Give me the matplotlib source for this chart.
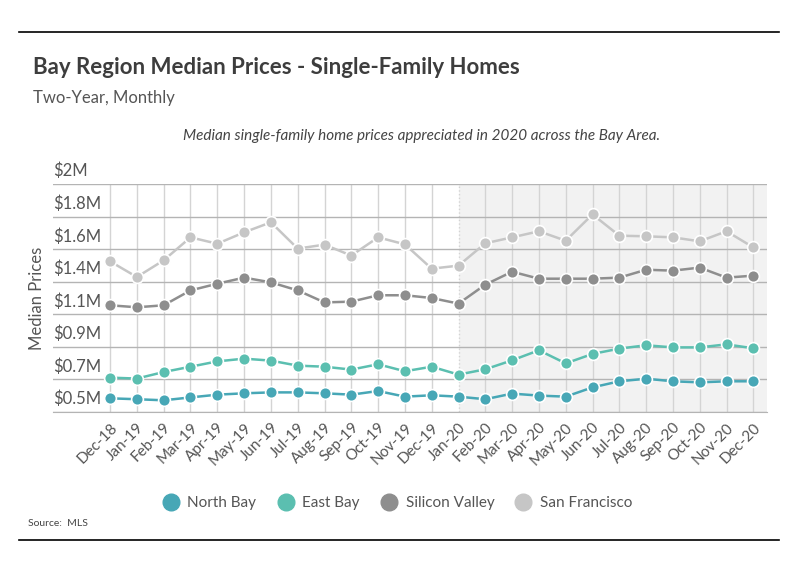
import matplotlib
matplotlib.use("Agg")
import matplotlib.pyplot as plt
import matplotlib.transforms as mtransforms
from matplotlib.lines import Line2D

plt.rcParams['font.family'] = ['Lato', 'DejaVu Sans']

months = ["Dec-18", "Jan-19", "Feb-19", "Mar-19", "Apr-19", "May-19", "Jun-19",
          "Jul-19", "Aug-19", "Sep-19", "Oct-19", "Nov-19", "Dec-19", "Jan-20",
          "Feb-20", "Mar-20", "Apr-20", "May-20", "Jun-20", "Jul-20", "Aug-20",
          "Sep-20", "Oct-20", "Nov-20", "Dec-20"]

north_bay = [0.590, 0.584, 0.577, 0.596, 0.614, 0.623, 0.629, 0.629, 0.623, 0.614,
             0.638, 0.601, 0.610, 0.601, 0.584, 0.621, 0.608, 0.601, 0.662, 0.702,
             0.719, 0.702, 0.695, 0.702, 0.702]
east_bay = [0.726, 0.720, 0.763, 0.798, 0.833, 0.851, 0.838, 0.805, 0.798, 0.779,
            0.814, 0.768, 0.798, 0.746, 0.781, 0.840, 0.906, 0.820, 0.882, 0.917,
            0.939, 0.925, 0.925, 0.945, 0.919]
silicon_valley = [1.202, 1.189, 1.202, 1.300, 1.344, 1.384, 1.353, 1.300, 1.221, 1.226,
                  1.268, 1.268, 1.250, 1.213, 1.338, 1.423, 1.377, 1.377, 1.377, 1.384,
                  1.436, 1.430, 1.450, 1.384, 1.397]
san_francisco = [1.491, 1.388, 1.498, 1.649, 1.607, 1.682, 1.748, 1.575, 1.601, 1.529,
                 1.649, 1.603, 1.443, 1.463, 1.610, 1.649, 1.689, 1.627, 1.800, 1.660,
                 1.656, 1.649, 1.623, 1.689, 1.583]

series = [("North Bay", north_bay, "#47a7b6"),
          ("East Bay", east_bay, "#5bbfb0"),
          ("Silicon Valley", silicon_valley, "#8e8e8e"),
          ("San Francisco", san_francisco, "#c6c6c6")]

y_ticks = [0.5 + i * 1.5 / 7 for i in range(8)]
y_labels = ["$0.5M", "$0.7M", "$0.9M", "$1.1M", "$1.4M", "$1.6M", "$1.8M", "$2M"]

fig = plt.figure(figsize=(7.99, 5.75), dpi=100)
ax = fig.add_axes([53 / 799, 1 - 412 / 575, 714 / 799, 228 / 575])

x = list(range(len(months)))
ax.set_xlim(-2.13, 24.51)
ax.set_ylim(0.5, 2.0)

ax.axvspan(13, 24.51, color="#f2f2f2", zorder=0, lw=0)

for i in x:
    ls = ":" if months[i] == "Jan-20" else "-"
    ax.axvline(i, color="#d4d4d4", lw=1, ls=ls, zorder=1)
for yt in y_ticks:
    ax.axhline(yt, color="#b4b4b4", lw=1, zorder=1)

for name, vals, col in series[::-1]:
    ax.plot(x, vals, color=col, lw=1.8, marker="o", ms=8.5, mfc=col,
            mec="white", mew=1.2, zorder=3)

for s in ["top", "right", "left"]:
    ax.spines[s].set_visible(False)
ax.spines["bottom"].set_color("#b4b4b4")

ax.set_yticks([])
trans = mtransforms.blended_transform_factory(ax.transAxes, ax.transData)
for yt, lab in zip(y_ticks, y_labels):
    ax.text(0, yt + 0.03, lab, transform=trans, ha="left", va="bottom",
            fontsize=12, color="#555555")

ax.set_xticks(x)
ax.set_xticklabels(months, rotation=45, ha="right", rotation_mode="anchor",
                   fontsize=11, color="#555555")
ax.tick_params(axis="x", length=0, pad=6)

fig.text(37 / 799, 1 - 298 / 575, "Median Prices", rotation=90, ha="center",
         va="center", fontsize=12, color="#555555")

fig.add_artist(Line2D([19 / 799, 779 / 799], [1 - 32 / 575, 1 - 32 / 575],
                      color="black", lw=1.2))
fig.add_artist(Line2D([19 / 799, 779 / 799], [1 - 540 / 575, 1 - 540 / 575],
                      color="black", lw=1.2))

fig.text(33 / 799, 1 - 68 / 575, "Bay Region Median Prices - Single-Family Homes",
         fontsize=16, fontweight="bold", color="#3d3d3d", va="center")
fig.text(33 / 799, 1 - 98 / 575, "Two-Year, Monthly", fontsize=12,
         color="#555555", va="center")
fig.text(422 / 799, 1 - 136 / 575,
         "Median single-family home prices appreciated in 2020 across the Bay Area.",
         fontsize=11, style="italic", color="#444444", ha="center", va="center")

handles = [Line2D([], [], ls="none", marker="o", ms=12, mfc=c, mec=c, label=n)
           for n, v, c in series]
leg = fig.legend(handles=handles, loc="center", bbox_to_anchor=(394 / 799, 1 - 503 / 575),
                 ncol=4, frameon=False, fontsize=11, handletextpad=0.1,
                 columnspacing=0.9)
for t in leg.get_texts():
    t.set_color("#555555")

fig.text(28 / 799, 1 - 523 / 575, "Source:  MLS", fontsize=7.5, color="#444444",
         va="center")

fig.savefig("out.png", dpi=100)
